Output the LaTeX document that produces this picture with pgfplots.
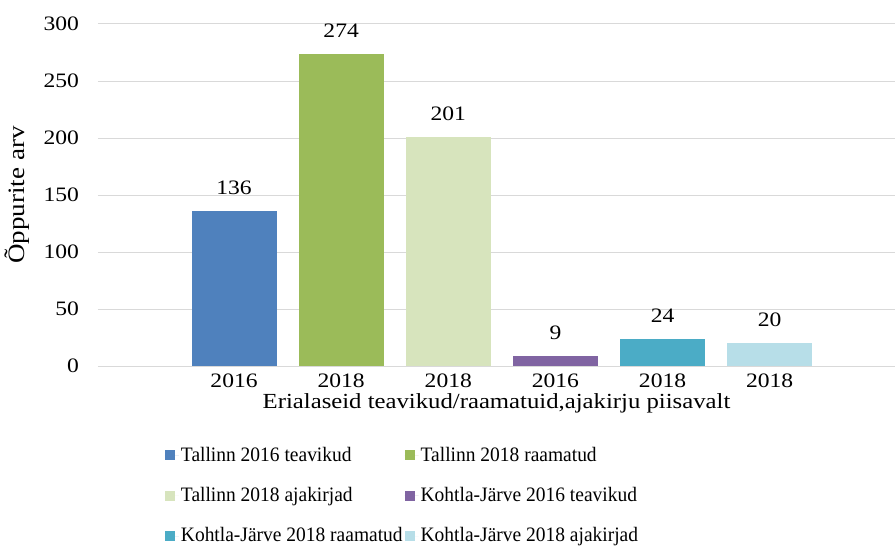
\documentclass[border=0pt]{standalone}
\usepackage{fontspec}
\setmainfont{Liberation Serif}[FakeStretch=1.15]
\newfontfamily\legfont{Liberation Serif}[FakeStretch=0.95]
\usepackage{pgfplots}
\pgfplotsset{compat=1.18}
\definecolor{c1}{HTML}{4F81BD}
\definecolor{c2}{HTML}{9BBB59}
\definecolor{c3}{HTML}{D7E4BD}
\definecolor{c4}{HTML}{8064A2}
\definecolor{c5}{HTML}{4BACC6}
\definecolor{c6}{HTML}{B7DEE8}
\definecolor{gridc}{HTML}{D9D9D9}
\begin{document}
\fontsize{20.5}{24}\selectfont
\begin{tikzpicture}
\begin{axis}[
  scale only axis, width=797pt, height=342pt,
  xmin=-0.27, xmax=7.17, ymin=0, ymax=300,
  ytick={0,50,...,300},
  xtick={1,...,6}, xticklabels={2016,2018,2018,2016,2018,2018},
  /pgf/number format/assume math mode=true,
  ymajorgrids, grid style={draw=gridc, line width=1pt},
  separate axis lines,
  axis x line*=bottom, axis y line*=left,
  y axis line style={draw=none},
  x axis line style={draw=gridc, line width=1pt, -},
  major tick length=0pt,
  yticklabel style={xshift=-12pt, font=\fontsize{20.5}{24}\selectfont},
  xticklabel style={yshift=-1pt, font=\fontsize{20.5}{24}\selectfont},
  ylabel={Õppurite arv},
  ylabel style={yshift=0pt, font=\fontsize{23.5}{27}\selectfont},
  xlabel={Erialaseid teavikud/raamatuid,ajakirju piisavalt},
  xlabel style={yshift=8pt, font=\fontsize{21.5}{25}\selectfont},
  nodes near coords,
  nodes near coords style={font=\fontsize{20.5}{24}\selectfont, yshift=9pt},
  legend columns=2,
  legend cell align=left,
  legend style={at={(axis description cs:0.080,-0.224)}, anchor=north west,
    draw=none, fill=none, row sep=19pt, column sep=0pt,
    font=\legfont\fontsize{20.5}{24}\selectfont},
  legend image code/.code={\fill[#1] (0pt,-5pt) rectangle (10pt,5pt); \path (0pt,0pt) -- (14pt,0pt);},
]
\addplot[ybar, bar width=85pt, bar shift=0pt, fill=c1, draw=none] coordinates {(1,136)};
\addlegendentry{Tallinn 2016 teavikud}
\addplot[ybar, bar width=85pt, bar shift=0pt, fill=c2, draw=none] coordinates {(2,274)};
\addlegendentry{Tallinn 2018 raamatud}
\addplot[ybar, bar width=85pt, bar shift=0pt, fill=c3, draw=none] coordinates {(3,201)};
\addlegendentry{Tallinn 2018 ajakirjad}
\addplot[ybar, bar width=85pt, bar shift=0pt, fill=c4, draw=none] coordinates {(4,9)};
\addlegendentry{Kohtla-Järve 2016 teavikud}
\addplot[ybar, bar width=85pt, bar shift=0pt, fill=c5, draw=none] coordinates {(5,24)};
\addlegendentry{Kohtla-Järve 2018 raamatud}
\addplot[ybar, bar width=85pt, bar shift=0pt, fill=c6, draw=none] coordinates {(6,20)};
\addlegendentry{Kohtla-Järve 2018 ajakirjad}
\end{axis}
\pgfresetboundingbox
\useasboundingbox (-98pt,-183pt) rectangle (798pt,366pt);
\end{tikzpicture}
\end{document}
